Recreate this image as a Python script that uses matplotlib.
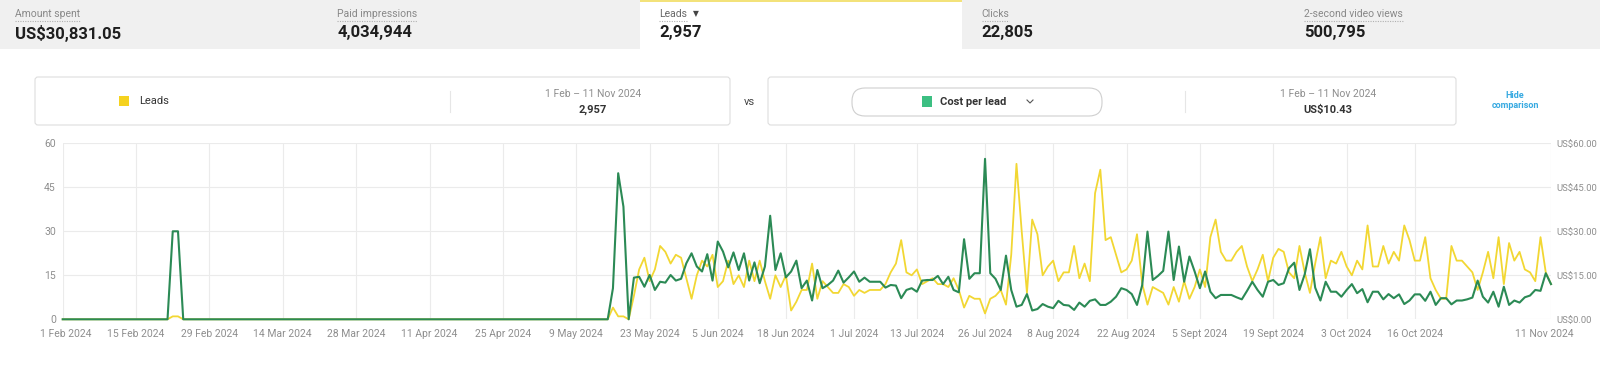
import matplotlib.pyplot as plt
import matplotlib.transforms as mtransforms
from matplotlib.patches import Rectangle, FancyBboxPatch
import pandas as pd

plt.rcParams['font.family'] = ['Roboto', 'DejaVu Sans']

# top summary bar
metric_names = ["Amount spent", "Paid impressions", "Leads", "Clicks", "2-second video views"]
metric_values = ["US$30,831.05", "4,034,944", "2,957", "22,805", "500,795"]

# daily data, 1 Feb - 11 Nov 2024
start_date = "2024-02-01"
end_date = "2024-11-11"

leads = [
    0, 0, 0, 0, 0, 0, 0, 0, 0, 0, 0, 0, 0, 0, 0, 0, 0, 0, 0, 0,
    0, 1, 1,
    0, 0, 0, 0, 0, 0, 0, 0, 0, 0, 0, 0, 0, 0, 0, 0, 0, 0, 0, 0,
    0, 0, 0, 0, 0, 0, 0, 0, 0, 0, 0, 0, 0, 0, 0, 0, 0, 0, 0, 0,
    0, 0, 0, 0, 0, 0, 0, 0, 0, 0, 0, 0, 0, 0, 0, 0, 0, 0, 0, 0,
    0, 0, 0, 0, 0, 0, 0, 0, 0, 0, 0, 0, 0, 0, 0, 0, 0, 0, 0, 0,
    0, 0,
    4, 1, 1, 0,
    8, 17, 21, 13, 17, 25, 23, 19, 22, 21, 14, 7, 15, 20, 18, 22, 11, 13, 20, 12,
    15, 11, 20, 13, 20, 13, 7, 15, 11, 15, 3, 6, 10, 10, 19, 7, 13, 11, 9, 9,
    12, 11, 8, 10, 9, 10, 10,
    10, 12, 16, 19, 27, 16, 15, 17, 12, 13, 14, 12, 12, 11, 14, 10, 4, 8, 7, 7,
    2, 7, 8, 10, 5, 22, 53, 30, 9, 34, 29, 15, 18, 20, 13, 16, 16, 25, 14, 19,
    13, 43, 51, 27, 28, 22, 16, 17, 20, 29, 12, 5, 11, 10, 9, 5, 11,
    6, 13, 7, 11, 17, 11, 28, 34, 23, 20, 20, 23, 25, 18, 13, 17, 22, 13, 21, 24,
    23, 16, 14, 25, 16, 9, 19, 28, 14, 20, 19, 23, 18, 15, 20, 17, 32, 18, 18, 25,
    19, 23, 20, 32, 27, 20, 20, 28, 14, 10, 7, 7,
    25, 20, 20, 18, 16, 10, 16, 23, 14, 28, 12, 26, 20, 23, 17, 16, 13, 28, 16, 12,
]

cost_per_lead = [
    0, 0, 0, 0, 0, 0, 0, 0, 0, 0, 0, 0, 0, 0, 0, 0, 0, 0, 0, 0,
    0, 30, 30,
    0, 0, 0, 0, 0, 0, 0, 0, 0, 0, 0, 0, 0, 0, 0, 0, 0, 0, 0, 0,
    0, 0, 0, 0, 0, 0, 0, 0, 0, 0, 0, 0, 0, 0, 0, 0, 0, 0, 0, 0,
    0, 0, 0, 0, 0, 0, 0, 0, 0, 0, 0, 0, 0, 0, 0, 0, 0, 0, 0, 0,
    0, 0, 0, 0, 0, 0, 0, 0, 0, 0, 0, 0, 0, 0, 0, 0, 0, 0, 0, 0,
    0, 0,
    10.6, 49.8, 38.4, 0,
    14.2, 14.5, 11.1, 15.1, 10.0, 12.8, 12.5, 15.1, 13.2, 13.8,
    19.1, 22.5, 18.0, 16.3, 22.2, 13.2, 26.5, 23.1, 17.7, 22.8,
    16.8, 22.5, 13.2, 19.4, 12.3, 18.0, 35.3, 16.8, 22.5, 14.3,
    16.3, 20.0, 10.6, 13.2, 6.4, 16.8, 10.6, 11.7, 13.2, 16.6,
    12.5, 14.3, 16.3, 12.8, 14.2, 12.8, 12.8,
    12.8, 10.8, 11.7, 11.5, 7.2, 10.0, 10.6, 9.4, 13.2, 13.4,
    13.4, 14.8, 12.0, 14.5, 10.0, 9.2, 27.3, 13.8, 15.7, 15.7,
    54.7, 15.7, 13.8, 10.0, 21.7, 10.0, 4.3, 4.9, 8.6, 3.0,
    3.5, 5.2, 4.3, 3.8, 6.3, 4.9, 4.7, 3.2, 5.7, 4.3,
    6.3, 6.8, 4.9, 4.9, 6.0, 7.7, 10.6, 10.0, 8.6, 4.9,
    11.7, 29.9, 13.4, 14.8, 16.5, 29.9, 13.4,
    24.8, 12.8, 21.4, 16.3, 10.6, 16.3, 9.4, 7.2, 8.3, 8.3,
    8.3, 7.5, 6.8, 9.7, 12.8, 10.0, 7.7, 12.8, 13.4, 11.7,
    12.3, 17.4, 19.3, 10.0, 15.3, 23.9, 10.8, 6.4, 12.8, 9.4,
    9.4, 7.7, 10.0, 12.0, 8.9, 10.3, 5.8, 9.4, 9.4, 6.8,
    8.6, 7.2, 8.5, 5.2, 6.4, 8.5, 8.5, 6.3, 9.4, 4.9,
    7.2, 7.2,
    5.1, 6.4, 6.4, 6.8, 7.4, 13.2, 7.7, 5.7, 9.4, 4.3,
    11.1, 4.9, 6.4, 5.7, 7.5, 8.1, 10.0, 9.7, 15.7, 12.0,
]

tick_dates = ["2024-02-01", "2024-02-15", "2024-02-29", "2024-03-14", "2024-03-28",
              "2024-04-11", "2024-04-25", "2024-05-09", "2024-05-23", "2024-06-05",
              "2024-06-18", "2024-07-01", "2024-07-13", "2024-07-26", "2024-08-08",
              "2024-08-22", "2024-09-05", "2024-09-19", "2024-10-03", "2024-10-16",
              "2024-11-11"]
tick_labels = ["1 Feb 2024", "15 Feb 2024", "29 Feb 2024", "14 Mar 2024", "28 Mar 2024",
               "11 Apr 2024", "25 Apr 2024", "9 May 2024", "23 May 2024", "5 Jun 2024",
               "18 Jun 2024", "1 Jul 2024", "13 Jul 2024", "26 Jul 2024", "8 Aug 2024",
               "22 Aug 2024", "5 Sept 2024", "19 Sept 2024", "3 Oct 2024", "16 Oct 2024",
               "11 Nov 2024"]
y_ticks = [0, 15, 30, 45, 60]
right_labels = ["US$0.00", "US$15.00", "US$30.00", "US$45.00", "US$60.00"]

days = pd.date_range(start_date, end_date, freq="D")

YELLOW = "#f2d733"
GREEN = "#2b8a55"
GREY_TXT = "#8e8e8e"

fig = plt.figure(figsize=(16, 3.67), dpi=100)

# background layer in pixel coordinates (y down)
bg = fig.add_axes([0, 0, 1, 1])
bg.set_xlim(0, 1600)
bg.set_ylim(367, 0)
bg.axis("off")

bg.add_patch(Rectangle((0, 0), 1600, 49, color="#f0f0f0", lw=0))
bg.add_patch(Rectangle((640, 0), 322, 49, color="white", lw=0))
bg.add_patch(Rectangle((640, 0), 322, 2, color="#f3e27a", lw=0))

renderer = fig.canvas.get_renderer()
for i, (name, value) in enumerate(zip(metric_names, metric_values)):
    x = 15 + 322.2 * i
    col = "#666666" if i == 2 else "#888888"
    t = bg.text(x, 14, name, fontsize=7.5, color=col, va="center")
    w = t.get_window_extent(renderer).width
    bg.plot([x, x + w], [20.5, 20.5], color="#b0b0b0", lw=0.8, ls=(0, (1, 1.2)))
    if i == 2:
        bg.text(x + w + 6, 14, "▼", fontsize=5.5, color="#444444", va="center",
                family=["DejaVu Sans"])
    bg.text(x, 33, value, fontsize=12, weight="bold", color="#1e1e1e", va="center")

# comparison boxes
bg.add_patch(FancyBboxPatch((35, 77), 695, 48, boxstyle="round,pad=0,rounding_size=3",
                            fc="white", ec="#dedede", lw=0.8))
bg.add_patch(Rectangle((119, 96), 10, 10, color="#f5d21f", lw=0))
bg.text(139, 101.5, "Leads", fontsize=8, color="#333333", va="center")
bg.plot([450, 450], [91, 112], color="#e6e6e6", lw=0.8)
bg.text(593, 94, "1 Feb – 11 Nov 2024", fontsize=7.5, color=GREY_TXT, ha="center", va="center")
bg.text(593, 110, "2,957", fontsize=8, weight="bold", color="#333333", ha="center", va="center")

bg.text(749, 102, "vs", fontsize=8, color="#444444", ha="center", va="center")

bg.add_patch(FancyBboxPatch((768, 77), 688, 48, boxstyle="round,pad=0,rounding_size=3",
                            fc="white", ec="#dedede", lw=0.8))
bg.add_patch(FancyBboxPatch((852, 88), 250, 28, boxstyle="round,pad=0,rounding_size=13",
                            fc="white", ec="#cfcfcf", lw=0.8))
bg.add_patch(Rectangle((922, 96), 10, 11, color="#3cbf82", lw=0))
bg.text(940, 102, "Cost per lead", fontsize=8, weight="bold", color="#333333", va="center")
bg.plot([1027, 1030, 1033], [100, 103, 100], color="#555555", lw=0.8)
bg.plot([1185, 1185], [91, 112], color="#e6e6e6", lw=0.8)
bg.text(1328, 94, "1 Feb – 11 Nov 2024", fontsize=7.5, color=GREY_TXT, ha="center", va="center")
bg.text(1328, 110, "US$10.43", fontsize=8, weight="bold", color="#333333", ha="center", va="center")

bg.text(1515, 96, "Hide", fontsize=6.5, weight="bold", color="#36a9e1", ha="center", va="center")
bg.text(1515, 106, "comparison", fontsize=6.5, weight="bold", color="#36a9e1", ha="center", va="center")

# main chart
ax = fig.add_axes([62.7 / 1600, 1 - 319.3 / 367, (1551 - 62.7) / 1600, 176 / 367])
ax.plot(days, leads, color=YELLOW, lw=1.3, clip_on=False, zorder=3)
ax.plot(days, cost_per_lead, color=GREEN, lw=1.5, clip_on=False, zorder=4)
ax.set_xlim(days[0], days[-1])
ax.set_ylim(0, 60)
ax.set_xticks(pd.to_datetime(tick_dates))
ax.set_xticklabels(tick_labels)
ax.set_yticks(y_ticks)
ax.grid(True, color="#ebebeb", lw=0.8)
ax.set_axisbelow(True)
for s in ax.spines.values():
    s.set_visible(False)
ax.tick_params(axis="x", length=0, labelsize=7.5, colors=GREY_TXT, pad=7)
ax.tick_params(axis="y", length=0, labelsize=7.5, colors=GREY_TXT, pad=5)

last = ax.get_xticklabels()[-1]
last.set_transform(last.get_transform() + mtransforms.ScaledTranslation(-0.07, 0, fig.dpi_scale_trans))
first = ax.get_xticklabels()[0]
first.set_transform(first.get_transform() + mtransforms.ScaledTranslation(0.03, 0, fig.dpi_scale_trans))

ax2 = ax.twinx()
ax2.set_ylim(0, 60)
ax2.set_yticks(y_ticks)
ax2.set_yticklabels(right_labels)
for s in ax2.spines.values():
    s.set_visible(False)
ax2.tick_params(axis="y", length=0, labelsize=6.8, colors=GREY_TXT, pad=4)

fig.savefig("out.png", dpi=100)
